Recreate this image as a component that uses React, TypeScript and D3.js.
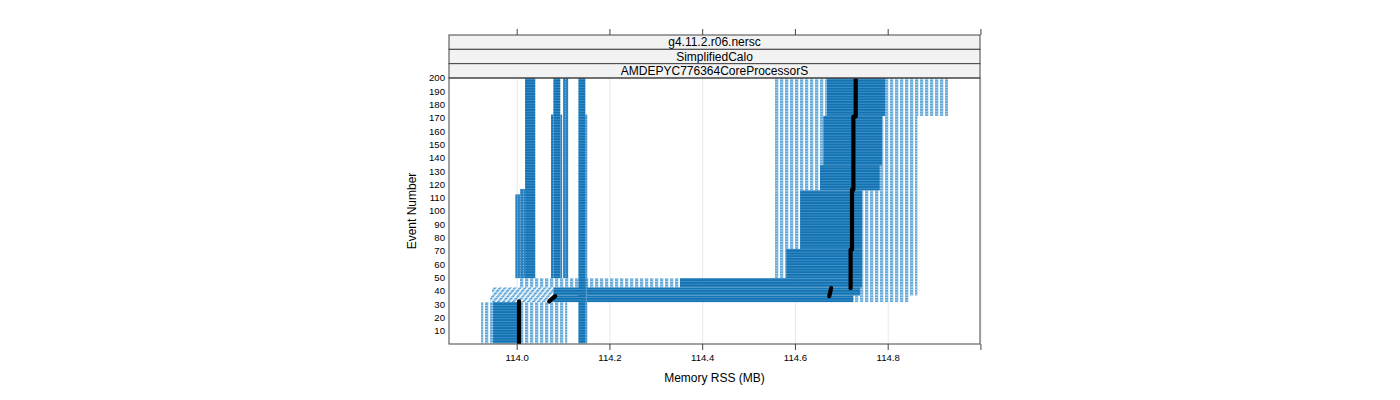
import React from 'react';
import * as d3 from 'd3';

// ---- data ----
const stripLabels = ['g4.11.2.r06.nersc', 'SimplifiedCalo', 'AMDEPYC776364CoreProcessorS'];
const xTickValues = [114.0, 114.2, 114.4, 114.6, 114.8, 115.0];
const xTickLabels = ['114.0', '114.2', '114.4', '114.6', '114.8', ''];
const yTickValues = [10, 20, 30, 40, 50, 60, 70, 80, 90, 100, 110, 120, 130, 140, 150, 160, 170, 180, 190, 200];
const xDomain = [113.853, 114.998];
const yDomain = [0, 200];

// blocks of points: [eventFrom, eventTo, memFrom (MB), memTo (MB)]
const denseBlocks: number[][] = [
  [1, 31, 113.948, 114.004],
  [1, 200, 114.132, 114.147],
  [32, 36, 114.078, 114.725],
  [37, 42, 114.078, 114.74],
  [43, 49, 114.351, 114.744],
  [50, 71, 114.58, 114.744],
  [72, 115, 114.61, 114.744],
  [116, 134, 114.653, 114.782],
  [135, 171, 114.66, 114.787],
  [172, 200, 114.668, 114.794],
  [50, 200, 114.017, 114.039],
  [50, 172, 114.073, 114.078],
  [50, 200, 114.078, 114.093],
];
const sparseBlocks: number[][] = [
  [1, 31, 113.922, 113.948],
  [1, 31, 114.004, 114.108],
  [32, 36, 114.725, 114.847],
  [37, 42, 114.74, 114.863],
  [43, 49, 114.006, 114.351],
  [43, 49, 114.744, 114.863],
  [50, 71, 114.554, 114.58],
  [50, 71, 114.744, 114.863],
  [72, 115, 114.554, 114.61],
  [72, 115, 114.744, 114.863],
  [116, 134, 114.554, 114.653],
  [116, 134, 114.782, 114.863],
  [135, 171, 114.554, 114.66],
  [135, 171, 114.787, 114.863],
  [172, 200, 114.554, 114.668],
  [172, 200, 114.794, 114.929],
];
const mediumBlocks: number[][] = [
  [1, 172, 114.147, 114.151],
  [50, 112, 113.996, 114.006],
  [50, 116, 114.006, 114.017],
  [50, 172, 114.093, 114.097],
  [50, 200, 114.099, 114.11],
];
const slantedBlocks: number[][] = [
  [32, 36, 113.942, 114.078],
  [37, 42, 113.946, 114.078],
];
// reference run (black): [eventFrom, eventTo, memFrom, memTo]
const blackSegments: number[][] = [
  [1, 32, 114.004, 114.004],
  [32, 36, 114.069, 114.082],
  [36, 42, 114.673, 114.677],
  [42, 71, 114.719, 114.719],
  [71, 116, 114.722, 114.722],
  [116, 171, 114.725, 114.725],
  [171, 200, 114.73, 114.73],
];

const FONT = '"Liberation Sans", Arial, Helvetica, sans-serif';

export default function App() {
  const left = 449, right = 980, top = 78, bottom = 344;
  const stripTop = 35;
  const stripH = (top - stripTop) / 3;
  const x = d3.scaleLinear().domain(xDomain).range([left, right]);
  const y = d3.scaleLinear().domain(yDomain).range([bottom, top]);
  const step = y(0) - y(1);
  const ph = step * 2;

  const rectOf = (b: number[], fill: string, key: string) => {
    const x0 = x(b[2]);
    const x1 = x(b[3]);
    const y0 = y(b[1] + 0.5);
    const y1 = y(b[0] - 0.5);
    return <rect key={key} x={x0} y={y0} width={x1 - x0} height={y1 - y0} fill={fill} />;
  };

  return (
    <svg width={1400} height={400} style={{ position: 'absolute', left: 0, top: 0, display: 'block', background: '#fff' }}>
      <defs>
        <clipPath id="panelClip">
          <rect x={left} y={top} width={right - left} height={bottom - top} />
        </clipPath>
        <pattern id="dense" patternUnits="userSpaceOnUse" width={4} height={ph}>
          <rect width={4} height={ph} fill="#0f70b0" />
          <rect y={ph - 1} width={4} height={1} fill="#3f90c8" />
        </pattern>
        <pattern id="sparse" patternUnits="userSpaceOnUse" width={5} height={ph}>
          <rect width={5} height={ph} fill="#ffffff" />
          <rect width={3.2} height={ph} fill="#5ea6d8" />
          <rect y={ph - 1} width={3.2} height={1} fill="#b0d4ee" />
        </pattern>
        <pattern id="slanted" patternUnits="userSpaceOnUse" width={5} height={ph} patternTransform="skewX(-40)">
          <rect width={5} height={ph} fill="#ffffff" />
          <rect width={3.2} height={ph} fill="#5ea6d8" />
          <rect y={ph - 1} width={3.2} height={1} fill="#b0d4ee" />
        </pattern>
        <pattern id="medium" patternUnits="userSpaceOnUse" width={3} height={ph}>
          <rect width={3} height={ph} fill="#2c83c1" />
          <rect x={1} y={ph - 1} width={1} height={1} fill="#8cbfe3" />
        </pattern>
      </defs>

      {/* grid */}
      {xTickValues.map((v, i) => (
        <line key={'g' + i} x1={x(v)} x2={x(v)} y1={top} y2={bottom} stroke="#e8e8e8" strokeWidth={1} />
      ))}

      <g clipPath="url(#panelClip)">
        {sparseBlocks.map((b, i) => rectOf(b, 'url(#sparse)', 's' + i))}
        {slantedBlocks.map((b, i) => rectOf(b, 'url(#slanted)', 'sl' + i))}
        {denseBlocks.map((b, i) => rectOf(b, 'url(#dense)', 'd' + i))}
        {mediumBlocks.map((b, i) => rectOf(b, 'url(#medium)', 'm' + i))}
        {blackSegments.map((s, i) => (
          <line key={'b' + i} x1={x(s[2])} x2={x(s[3])} y1={y(s[0])} y2={y(s[1])}
            stroke="#000" strokeWidth={4.2} strokeLinecap="round" />
        ))}
      </g>

      {/* strips */}
      {stripLabels.map((t, i) => (
        <g key={'st' + i}>
          <rect x={left} y={stripTop + i * stripH} width={right - left} height={stripH} fill="#f2f2f2" stroke="#444" strokeWidth={1} />
          <text x={(left + right) / 2} y={stripTop + i * stripH + stripH / 2 + 4.3} textAnchor="middle"
            fontFamily={FONT} fontSize={12} fill="#000">{t}</text>
        </g>
      ))}

      {/* panel border */}
      <rect x={left} y={top} width={right - left} height={bottom - top} fill="none" stroke="#444" strokeWidth={1} />

      {/* x ticks bottom and top */}
      {xTickValues.map((v, i) => (
        <g key={'xt' + i}>
          <line x1={x(v)} x2={x(v)} y1={bottom} y2={bottom + 6} stroke="#444" />
          <line x1={x(v)} x2={x(v)} y1={stripTop} y2={stripTop - 6} stroke="#444" />
          <text x={x(v)} y={bottom + 17} textAnchor="middle" fontFamily={FONT} fontSize={9.6} fill="#000">{xTickLabels[i]}</text>
        </g>
      ))}

      {/* y tick labels */}
      {yTickValues.map((v, i) => (
        <text key={'yt' + i} x={left - 4} y={y(v) + 3.4} textAnchor="end" fontFamily={FONT} fontSize={9.6} fill="#000">{v}</text>
      ))}

      <text x={(left + right) / 2} y={382} textAnchor="middle" fontFamily={FONT} fontSize={12} fill="#000">Memory RSS (MB)</text>
      <text transform={`translate(416, ${(top + bottom) / 2}) rotate(-90)`} textAnchor="middle" fontFamily={FONT} fontSize={12} fill="#000">Event Number</text>
    </svg>
  );
}
